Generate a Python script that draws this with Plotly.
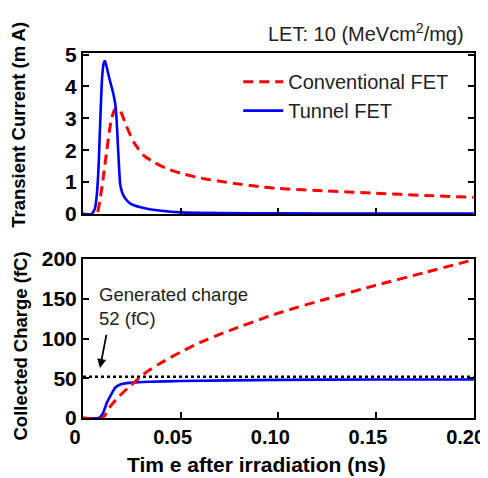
import plotly.graph_objects as go

# Transient current (mA)
t_conv_i = [0.0, 0.0070, 0.0087, 0.0105, 0.0122, 0.0135, 0.0147, 0.0160, 0.0172, 0.0185, 0.0200, 0.0223, 0.0260, 0.031, 0.0370, 0.0426, 0.050, 0.060, 0.077, 0.090, 0.100, 0.125, 0.150, 0.175, 0.200]
i_conv = [0.0, 0.0, 0.44, 1.2, 2.0, 2.6, 3.0, 3.25, 3.32, 3.28, 3.12, 2.75, 2.25, 1.84, 1.6, 1.43, 1.28, 1.13, 0.96, 0.86, 0.80, 0.72, 0.65, 0.58, 0.52]

t_tfet_i = [0.0, 0.0045, 0.0060, 0.0070, 0.0080, 0.0087, 0.0098, 0.0107, 0.0113, 0.0120, 0.0135, 0.0155, 0.0165, 0.0172, 0.0180, 0.0190, 0.0200, 0.0215, 0.0235, 0.0257, 0.030, 0.034, 0.040, 0.050, 0.070, 0.100, 0.150, 0.200]
i_tfet = [0.0, 0.0, 0.15, 0.55, 1.5, 2.7, 4.3, 4.75, 4.8, 4.65, 4.25, 3.78, 3.45, 2.97, 2.0, 0.95, 0.68, 0.5, 0.36, 0.28, 0.2, 0.15, 0.1, 0.05, 0.03, 0.02, 0.01, 0.01]

# Collected charge (fC)
t_conv_q = [0.0, 0.010, 0.0138, 0.018, 0.024, 0.031, 0.039, 0.050, 0.060, 0.075, 0.100, 0.125, 0.150, 0.175, 0.200]
q_conv = [0.0, 0.0, 14, 26, 40, 55, 68, 83, 95, 110, 132, 150, 167, 183, 199]

t_tfet_q = [0.0, 0.0080, 0.0100, 0.0122, 0.0145, 0.0164, 0.0185, 0.0205, 0.025, 0.034, 0.050, 0.100, 0.150, 0.200]
q_tfet = [0.0, 0.0, 5, 19, 30, 38, 41.5, 43, 44.5, 45.6, 46.5, 48, 48.5, 48.5]

generated_charge = 52
x_ticks = [0, 0.05, 0.10, 0.15, 0.20]
x_tick_labels = ["0", "0.05", "0.10", "0.15", "0.20"]
y1_ticks = [0, 1, 2, 3, 4, 5]
y2_ticks = [0, 50, 100, 150, 200]

RED = "#ff0000"
BLUE = "#0000ff"
DASH = "10px,6px"
BOLD = "Liberation Sans, Arial, sans-serif"
REG = "Liberation Sans, Arial, sans-serif"

fig = go.Figure()
fig.add_trace(go.Scatter(x=t_conv_i, y=i_conv, mode="lines", name="Conventional FET",
                         line=dict(color=RED, width=3, dash=DASH, shape="spline", smoothing=0.5),
                         xaxis="x", yaxis="y"))
fig.add_trace(go.Scatter(x=t_tfet_i, y=i_tfet, mode="lines", name="Tunnel FET",
                         line=dict(color=BLUE, width=2.6, shape="spline", smoothing=0.4),
                         xaxis="x", yaxis="y"))
fig.add_trace(go.Scatter(x=[0, 0.2], y=[generated_charge, generated_charge], mode="lines",
                         line=dict(color="black", width=2.5, dash="dot"), showlegend=False,
                         xaxis="x2", yaxis="y2"))
fig.add_trace(go.Scatter(x=t_tfet_q, y=q_tfet, mode="lines", showlegend=False,
                         line=dict(color=BLUE, width=2.6, shape="spline", smoothing=0.5),
                         xaxis="x2", yaxis="y2"))
fig.add_trace(go.Scatter(x=t_conv_q, y=q_conv, mode="lines", showlegend=False,
                         line=dict(color=RED, width=3, dash=DASH, shape="spline", smoothing=0.6),
                         xaxis="x2", yaxis="y2"))

tickfont = dict(family=BOLD, size=21, color="black")
axcommon = dict(showline=True, linecolor="black", linewidth=2,
                ticks="inside", ticklen=6, tickwidth=1.5, tickcolor="black",
                showgrid=False, zeroline=False, automargin=False,
                tickmode="array")

# the page has an 8px body offset, so the figure is 8px smaller
fig.update_layout(
    width=480, height=470,
    margin=dict(l=75, r=14, t=45, b=60),
    paper_bgcolor="white", plot_bgcolor="white",
    xaxis=dict(domain=[0, 1], range=[0, 0.2002], anchor="y", tickvals=x_ticks,
               showticklabels=False, mirror=True, tickfont=tickfont, **axcommon),
    yaxis=dict(domain=[0.559, 1], range=[0, 5.05], anchor="x", tickvals=y1_ticks,
               ticktext=[f"<b>{v}</b>" for v in y1_ticks], mirror="ticks",
               tickfont=tickfont, **axcommon),
    xaxis2=dict(domain=[0, 1], range=[0, 0.2002], anchor="y2", tickvals=x_ticks,
                ticktext=[f"<b>{s}</b>" for s in x_tick_labels], mirror=True,
                ticklabelshift=-8, tickfont=dict(family=BOLD, size=20, color="black"),
                **axcommon),
    yaxis2=dict(domain=[0, 0.4356], range=[0, 200], anchor="x2", tickvals=y2_ticks,
                ticktext=[f"<b>{v}</b>" for v in y2_ticks], mirror="ticks",
                tickfont=tickfont, **axcommon),
    legend=dict(x=0.397, y=0.975, xanchor="left", yanchor="top", bgcolor="rgba(0,0,0,0)",
                font=dict(family=REG, size=20, color="#222"),
                tracegroupgap=0, itemwidth=40),
    showlegend=True,
)

# axis titles
fig.add_annotation(text="<b>Transient Current (m A)</b>", xref="paper", yref="paper",
                   x=-0.164, y=0.803, textangle=-90, showarrow=False,
                   xanchor="center", yanchor="middle",
                   font=dict(family=BOLD, size=18.5, color="black"))
fig.add_annotation(text="<b>Collected Charge (fC)</b>", xref="paper", yref="paper",
                   x=-0.160, y=0.197, textangle=-90, showarrow=False,
                   xanchor="center", yanchor="middle",
                   font=dict(family=BOLD, size=18.5, color="black"))
fig.add_annotation(text="<b>Tim e after irradiation (ns)</b>", xref="paper", yref="paper",
                   x=0.445, y=-0.127, showarrow=False, xanchor="center", yanchor="middle",
                   font=dict(family=BOLD, size=21, color="black"))

fig.add_annotation(text="LET: 10 (MeVcm<sup>2</sup>/mg)", xref="paper", yref="paper",
                   x=0.98, y=1.055, xanchor="right", yanchor="middle", showarrow=False,
                   font=dict(family=REG, size=20, color="#222"))
fig.add_annotation(text="Generated charge<br>52 (fC)", xref="x2", yref="y2",
                   x=0.0072, y=140, xanchor="left", yanchor="middle", align="left",
                   showarrow=False,
                   font=dict(family=REG, size=18.5, color="#222"))
fig.add_annotation(text=" ", xref="x2", yref="y2", x=0.0087, y=63, ax=7, ay=-36,
                   showarrow=True, arrowhead=2, arrowsize=1, arrowwidth=1.8, arrowcolor="black",
                   font=dict(size=2))

fig.write_html("out.html")
